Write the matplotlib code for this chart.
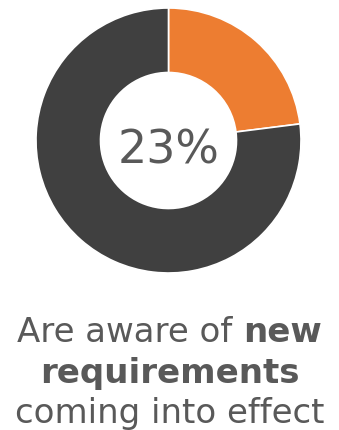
import matplotlib
matplotlib.use("Agg")
import matplotlib.pyplot as plt

# Survey share
labels = ["Aware", "Not aware"]
values = [23, 77]
colors = ["#ED7D31", "#404040"]
center_label = "23%"

# Caption pieces: (text, weight) per line
caption_lines = [
    [("Are aware of ", "normal"), ("new", "bold")],
    [("requirements", "bold")],
    [("coming into effect", "normal")],
]

FONT = "DejaVu Sans"
TEXT_COLOR = "#595959"

W, H, DPI = 339, 431, 100
fig = plt.figure(figsize=(W / DPI, H / DPI), dpi=DPI)

cx, cy, r = 168.5, 141.5, 132.5  # pixel geometry of the donut (from top-left)
ax = fig.add_axes([(cx - r) / W, 1 - (cy + r) / H, 2 * r / W, 2 * r / H])
ax.pie(values, colors=colors, startangle=90, counterclock=False, radius=1,
       wedgeprops=dict(width=(132.5 - 68) / 132.5, edgecolor="white", linewidth=1.2))
ax.set_xlim(-1, 1)
ax.set_ylim(-1, 1)
ax.set_aspect("equal")
ax.axis("off")
fig.text(cx / W, 1 - 163 / H, center_label, ha="center", va="baseline",
         fontsize=33, color=TEXT_COLOR, family=FONT)

# Caption below the donut, mixed weights centred per line
renderer = fig.canvas.get_renderer()
baselines = [342, 383, 423]
fs = 24.5
for line, base in zip(caption_lines, baselines):
    pieces = []
    total = 0.0
    for txt, wt in line:
        t = fig.text(0, 0, txt.replace(" ", "\u00a0"), fontsize=fs, fontweight=wt,
                     family=FONT, color=TEXT_COLOR, va="baseline", ha="left")
        w = t.get_window_extent(renderer).width
        pieces.append((t, w))
        total += w
    x = (W - total) / 2
    for t, w in pieces:
        t.set_position((x / W, 1 - base / H))
        x += w

fig.savefig("out.png", dpi=DPI)
